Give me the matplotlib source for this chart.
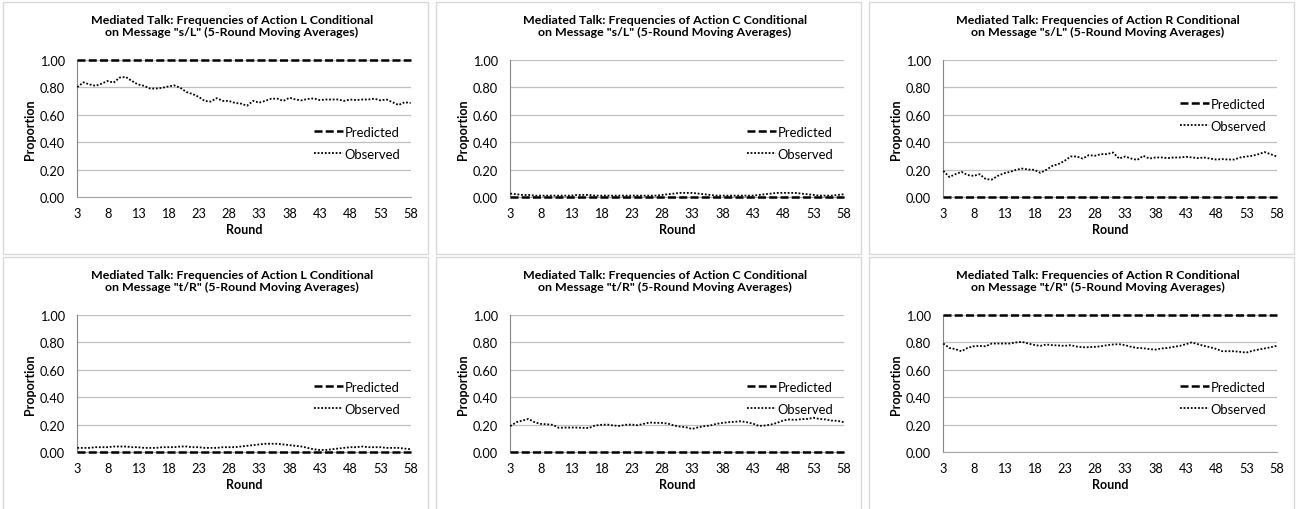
import matplotlib
matplotlib.use("Agg")
import matplotlib.pyplot as plt
from matplotlib.patches import Rectangle
from matplotlib.ticker import FormatStrFormatter

plt.rcParams['font.family'] = ['Lato', 'DejaVu Sans']

# rounds (5-round moving averages start at round 3)
rounds = list(range(3, 59))
xtick_vals = [3, 8, 13, 18, 23, 28, 33, 38, 43, 48, 53, 58]
ytick_vals = [0.0, 0.2, 0.4, 0.6, 0.8, 1.0]

# message "s/L"
obs_L_sL = [0.80, 0.835, 0.82, 0.81, 0.825, 0.845, 0.833, 0.87, 0.874, 0.845,
            0.82, 0.81, 0.79, 0.79, 0.795, 0.805, 0.813, 0.795, 0.765, 0.75,
            0.73, 0.70, 0.695, 0.72, 0.70, 0.70, 0.685, 0.68, 0.665, 0.70,
            0.687, 0.70, 0.716, 0.716, 0.70, 0.723, 0.71, 0.704, 0.714, 0.718,
            0.706, 0.71, 0.71, 0.71, 0.70, 0.71, 0.706, 0.71, 0.71, 0.716,
            0.704, 0.71, 0.69, 0.67, 0.69, 0.685]
obs_C_sL = [0.025, 0.02, 0.015, 0.015, 0.01, 0.01, 0.01, 0.01, 0.01, 0.01,
            0.01, 0.015, 0.015, 0.015, 0.01, 0.01, 0.01, 0.01, 0.01, 0.01,
            0.01, 0.01, 0.01, 0.01, 0.01, 0.015, 0.02, 0.025, 0.03, 0.03,
            0.03, 0.025, 0.02, 0.015, 0.01, 0.01, 0.01, 0.01, 0.01, 0.01,
            0.01, 0.015, 0.02, 0.025, 0.03, 0.03, 0.03, 0.03, 0.025, 0.02,
            0.015, 0.01, 0.01, 0.01, 0.015, 0.02]
obs_R_sL = [0.19, 0.146, 0.166, 0.183, 0.16, 0.154, 0.166, 0.13, 0.127, 0.154,
            0.173, 0.183, 0.198, 0.207, 0.20, 0.198, 0.176, 0.198, 0.227, 0.24,
            0.263, 0.295, 0.295, 0.28, 0.305, 0.30, 0.312, 0.312, 0.324, 0.28,
            0.295, 0.28, 0.27, 0.30, 0.28, 0.288, 0.288, 0.283, 0.288, 0.288,
            0.293, 0.288, 0.283, 0.288, 0.28, 0.273, 0.276, 0.273, 0.273, 0.288,
            0.295, 0.30, 0.312, 0.327, 0.312, 0.295]

# message "t/R"
obs_L_tR = [0.03, 0.03, 0.03, 0.035, 0.035, 0.035, 0.04, 0.04, 0.04, 0.035,
            0.035, 0.03, 0.03, 0.03, 0.035, 0.035, 0.035, 0.04, 0.04, 0.035,
            0.035, 0.03, 0.03, 0.03, 0.035, 0.035, 0.035, 0.04, 0.045, 0.05,
            0.055, 0.06, 0.06, 0.06, 0.055, 0.05, 0.045, 0.04, 0.03, 0.02,
            0.015, 0.015, 0.02, 0.025, 0.03, 0.035, 0.035, 0.04, 0.035, 0.035,
            0.035, 0.03, 0.03, 0.03, 0.025, 0.02]
obs_C_tR = [0.188, 0.217, 0.229, 0.241, 0.217, 0.205, 0.202, 0.198, 0.176, 0.178,
            0.178, 0.178, 0.176, 0.175, 0.193, 0.198, 0.20, 0.193, 0.19, 0.198,
            0.20, 0.195, 0.205, 0.215, 0.212, 0.212, 0.207, 0.193, 0.185, 0.18,
            0.168, 0.18, 0.188, 0.193, 0.205, 0.212, 0.217, 0.22, 0.224, 0.217,
            0.207, 0.19, 0.193, 0.20, 0.212, 0.229, 0.237, 0.234, 0.239, 0.241,
            0.249, 0.241, 0.237, 0.229, 0.227, 0.217]
obs_R_tR = [0.79, 0.758, 0.749, 0.734, 0.758, 0.77, 0.773, 0.77, 0.79, 0.79,
            0.79, 0.79, 0.798, 0.802, 0.79, 0.78, 0.773, 0.783, 0.778, 0.776,
            0.773, 0.778, 0.768, 0.763, 0.763, 0.766, 0.77, 0.778, 0.783, 0.785,
            0.778, 0.766, 0.758, 0.756, 0.749, 0.746, 0.754, 0.758, 0.766, 0.773,
            0.785, 0.798, 0.785, 0.773, 0.763, 0.751, 0.734, 0.734, 0.734, 0.729,
            0.724, 0.737, 0.746, 0.754, 0.763, 0.773]

# predicted frequencies (constant levels)
pred_one = [1.0] * len(rounds)
pred_zero = [0.0] * len(rounds)

panels = [
    ("L", '"s/L"', obs_L_sL, pred_one, 0.394),
    ("C", '"s/L"', obs_C_sL, pred_zero, 0.394),
    ("R", '"s/L"', obs_R_sL, pred_zero, 0.60),
    ("L", '"t/R"', obs_L_tR, pred_zero, 0.394),
    ("C", '"t/R"', obs_C_tR, pred_zero, 0.394),
    ("R", '"t/R"', obs_R_tR, pred_one, 0.394),
]

W, H = 1296, 510
col_off = [0, 433, 866]
row_off = [0, 255]

fig = plt.figure(figsize=(W / 100, H / 100), dpi=100)

for i, (act, msg, obs, pred, leg_y) in enumerate(panels):
    r, c = divmod(i, 3)
    dx, dy = col_off[c], row_off[r]

    # panel frame
    bottom_px = 254.5 if r == 0 else 515
    top_px = 3.3 + dy
    fig.add_artist(Rectangle(((2.7 + dx) / W, (H - bottom_px) / H), 425.3 / W,
                             (bottom_px - top_px) / H, transform=fig.transFigure,
                             fill=False, ec="#d9d9d9", lw=1.0))

    ax = fig.add_axes([(77.3 + dx) / W, (H - (198 + dy)) / H, 333.4 / W, 137.3 / H])
    ax.plot(rounds, pred, color="black", lw=1.8, ls=(0, (3.2, 1.3)),
            label="Predicted", zorder=4, clip_on=False)
    ax.plot(rounds, obs, color="black", lw=1.3, ls=(0, (1, 1)),
            label="Observed", zorder=3, clip_on=False)

    ax.set_xlim(3, 58)
    ax.set_ylim(0, 1)
    ax.set_xticks(xtick_vals)
    ax.set_yticks(ytick_vals)
    ax.yaxis.set_major_formatter(FormatStrFormatter("%.2f"))
    ax.grid(axis="y", color="#c0c0c0", lw=0.9)
    ax.set_axisbelow(True)
    for s in ["top", "right"]:
        ax.spines[s].set_visible(False)
    ax.spines["left"].set_color("#868686")
    ax.spines["bottom"].set_color("#a6a6a6")
    ax.tick_params(length=0, labelsize=9.2, colors="black")
    ax.tick_params(axis="y", pad=9)
    ax.tick_params(axis="x", pad=7)

    ax.set_ylabel("Proportion", fontsize=9, fontweight="bold", va="center")
    ax.yaxis.set_label_coords((30 - 77.3) / 333.4, 0.5)
    ax.set_xlabel("Round", fontsize=9, fontweight="bold", va="center")
    ax.xaxis.set_label_coords(0.5, -0.233)

    ax.legend(loc="center right", bbox_to_anchor=(0.968, leg_y), frameon=False,
              fontsize=9.4, handlelength=2.2, handletextpad=0.1,
              labelspacing=0.75, borderpad=0, borderaxespad=0)

    fig.text((232 + dx) / W, (H - (26.5 + dy)) / H,
             f"Mediated Talk: Frequencies of Action {act} Conditional\n"
             f"on Message {msg} (5-Round Moving Averages)",
             ha="center", va="center", fontsize=8.9, fontweight="bold",
             linespacing=1.12)

fig.savefig("out.png", dpi=100)
